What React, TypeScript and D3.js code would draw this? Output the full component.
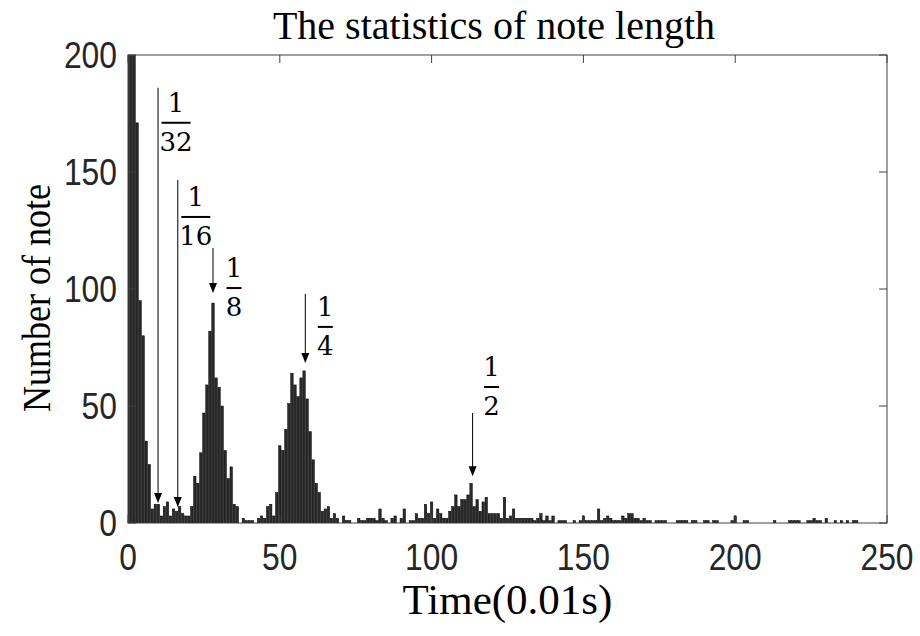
import React from "react";
import * as d3 from "d3";

const counts: number[] = [
  300, 300, 260, 171, 95, 80, 35, 25, 6, 8,
  8, 3, 7, 9, 3, 6, 5, 7, 4, 3,
  3, 7, 20, 17, 30, 47, 59, 82, 94, 62,
  58, 50, 31, 19, 24, 8, 7, 0, 2, 1,
  1, 1, 0, 2, 3, 2, 7, 8, 3, 13,
  33, 31, 40, 51, 64, 59, 54, 62, 65, 53,
  39, 27, 17, 13, 5, 6, 7, 2, 4, 2,
  0, 3, 1, 1, 0, 0, 2, 1, 1, 2,
  2, 2, 1, 6, 2, 1, 0, 2, 3, 0,
  2, 6, 0, 1, 1, 4, 2, 2, 8, 4,
  9, 2, 6, 4, 2, 2, 5, 7, 12, 7,
  10, 10, 12, 17, 7, 10, 5, 9, 11, 4,
  4, 4, 4, 2, 11, 2, 3, 6, 2, 2,
  2, 2, 2, 2, 1, 2, 4, 1, 3, 1,
  3, 0, 1, 1, 1, 0, 0, 1, 0, 1,
  3, 1, 1, 1, 1, 6, 1, 2, 3, 2,
  1, 1, 1, 3, 2, 4, 4, 2, 2, 1,
  2, 1, 1, 0, 1, 1, 1, 1, 0, 0,
  0, 1, 1, 1, 1, 0, 1, 1, 0, 0,
  1, 1, 0, 1, 1, 0, 0, 0, 0, 1,
  3, 0, 0, 1, 1, 0, 0, 0, 0, 0,
  0, 0, 0, 1, 0, 0, 0, 0, 1, 1,
  1, 1, 0, 0, 1, 1, 2, 1, 1, 0,
  2, 0, 0, 1, 0, 1, 0, 1, 0, 1,
  1,
];

const xTicks: number[] = [0, 50, 100, 150, 200, 250];
const yTicks: number[] = [0, 50, 100, 150, 200];

const noteDenominators: string[] = ["32", "16", "8", "4", "2"];
const arrowX: number[] = [9.9, 16.4, 28, 58.4, 113.5];
const arrowTop: number[] = [186, 146.6, 117.5, 97.9, 47];
const arrowTip: number[] = [8.5, 6.8, 98.3, 68.4, 20];

const titleText = "The statistics of note length";
const xLabel = "Time(0.01s)";
const yLabel = "Number of note";

export default function App() {
  const W = 920;
  const H = 636;
  const L = 128, R = 887, T = 55, B = 523;
  const x = d3.scaleLinear().domain([0, 250]).range([L, R]);
  const y = d3.scaleLinear().domain([0, 200]).range([B, T]);
  const bw = x(0.8) - x(0);
  const axisColor = "#404040";
  const tickLen = 8;
  const sans = "Liberation Sans, Arial, sans-serif";
  const serif = "Liberation Serif, Times New Roman, serif";

  const labelDx = [18, 18, 21, 20, 19];
  const labelTopDy = [5, 7, 10, 3, -56];

  return (
    <svg
      width={W}
      height={H}
      style={{ position: "absolute", left: 0, top: 0, background: "#fff" }}
    >
      <defs>
        <clipPath id="plotclip">
          <rect x={L} y={T} width={R - L} height={B - T} />
        </clipPath>
      </defs>
      <rect x={0} y={0} width={W} height={H} fill="#fff" />
      <g clipPath="url(#plotclip)">
        {counts.map((v, k) =>
          v > 0 ? (
            <rect
              key={k}
              x={x(k) - bw / 2}
              y={y(v)}
              width={bw}
              height={B - y(v)}
              fill="#2b2b2b"
              stroke="#000"
              strokeWidth={0.5}
            />
          ) : null
        )}
      </g>
      <rect x={L} y={T} width={R - L} height={B - T} fill="none" stroke={axisColor} strokeWidth={1} />
      {xTicks.map((t) => (
        <g key={"xt" + t}>
          <line x1={x(t)} x2={x(t)} y1={B} y2={B - tickLen} stroke={axisColor} />
          <line x1={x(t)} x2={x(t)} y1={T} y2={T + tickLen} stroke={axisColor} />
          <text
            transform={`translate(${x(t)}, 570) scale(0.86, 1)`}
            textAnchor="middle"
            fontFamily={sans}
            fontSize={37}
            fill="#262626"
          >
            {t}
          </text>
        </g>
      ))}
      {yTicks.map((t) => (
        <g key={"yt" + t}>
          <line x1={L} x2={L + tickLen} y1={y(t)} y2={y(t)} stroke={axisColor} />
          <line x1={R} x2={R - tickLen} y1={y(t)} y2={y(t)} stroke={axisColor} />
          <text
            transform={`translate(117, ${y(t) + 13}) scale(0.86, 1)`}
            textAnchor="end"
            fontFamily={sans}
            fontSize={37}
            fill="#262626"
          >
            {t}
          </text>
        </g>
      ))}
      <text x={494} y={39} textAnchor="middle" fontFamily={serif} fontSize={40} fill="#000">
        {titleText}
      </text>
      <text x={(L + R) / 2} y={614} textAnchor="middle" fontFamily={serif} fontSize={43} fill="#000">
        {xLabel}
      </text>
      <text
        transform={`translate(50, 298) rotate(-90) scale(0.9, 1)`}
        textAnchor="middle"
        fontFamily={serif}
        fontSize={40}
        fill="#000"
      >
        {yLabel}
      </text>
      {noteDenominators.map((d, i) => {
        const ax = x(arrowX[i]);
        const y0 = y(arrowTop[i]);
        const y1 = y(arrowTip[i]);
        const cx = ax + labelDx[i];
        const top = y0 + labelTopDy[i];
        const halfW = d.length > 1 ? 14.5 : 7.5;
        return (
          <g key={"ann" + i}>
            <line x1={ax} x2={ax} y1={y0} y2={y1 - 9} stroke="#000" strokeWidth={1} />
            <path d={`M${ax - 4},${y1 - 10} L${ax + 4},${y1 - 10} L${ax},${y1} Z`} fill="#000" />
            <text x={cx} y={top + 19} textAnchor="middle" fontFamily="DejaVu Serif, Liberation Serif, serif" fontSize={26} fill="#000">
              1
            </text>
            <line x1={cx - halfW} x2={cx + halfW} y1={top + 30} y2={top + 30} stroke="#000" strokeWidth={2} />
            <text x={cx} y={top + 58} textAnchor="middle" fontFamily="DejaVu Serif, Liberation Serif, serif" fontSize={26} fill="#000">
              {d}
            </text>
          </g>
        );
      })}
    </svg>
  );
}
